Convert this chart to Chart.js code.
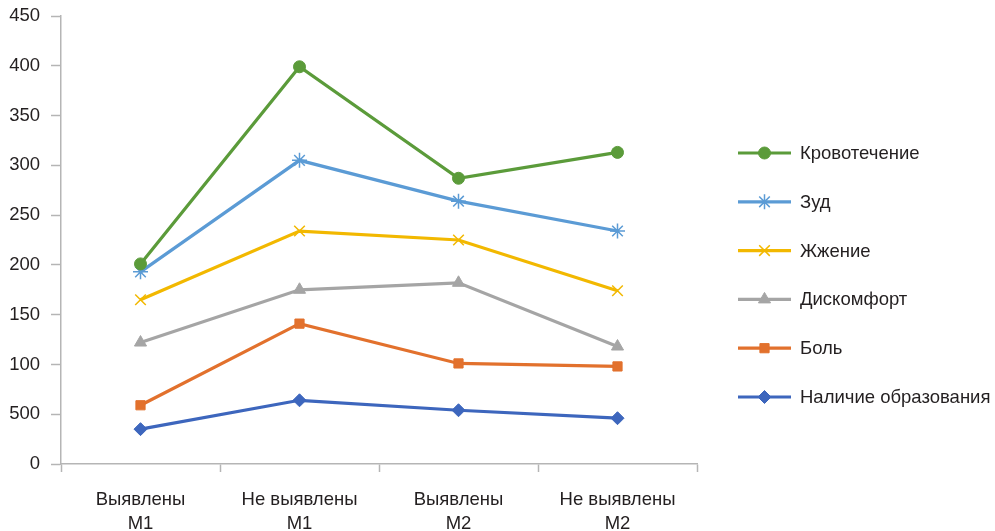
<!DOCTYPE html>
<html>
<head>
<meta charset="utf-8">
<script src="https://cdn.jsdelivr.net/npm/chart.js@4.4.1/dist/chart.umd.min.js"></script>
<style>
  html, body { margin: 0; padding: 0; background: #ffffff; }
  #wrap { width: 995px; height: 531px; }
</style>
</head>
<body>
<div id="wrap"><canvas id="chart" width="995" height="531"></canvas></div>
<script>
// Categories (two-line labels)
const categories = [
  ['Выявлены', 'M1'],
  ['Не выявлены', 'M1'],
  ['Выявлены', 'M2'],
  ['Не выявлены', 'M2']
];

// Y-axis tick labels as printed, from 0 to 450 in steps of 50
const yTickLabels = ['0', '500', '100', '150', '200', '250', '300', '350', '400', '450'];

// Series values
const bleeding   = [201, 399, 287, 313]; // Кровотечение
const itching    = [193, 305, 264, 234]; // Зуд
const burning    = [165, 234, 225, 174]; // Жжение
const discomfort = [122, 175, 182, 118]; // Дискомфорт
const pain       = [59, 141, 101, 98];   // Боль
const formation  = [35, 64, 54, 46];     // Наличие образования

const seriesNames = ['Кровотечение', 'Зуд', 'Жжение', 'Дискомфорт', 'Боль', 'Наличие образования'];

const FONT = "'Liberation Sans', Arial, Helvetica, sans-serif";
const TEXT_SIZE = 18.5;

function series(label, data, color, style, radius, borderW) {
  return {
    label: label,
    data: data,
    borderColor: color,
    backgroundColor: color,
    borderWidth: 3.2,
    pointStyle: style,
    pointRadius: radius,
    pointHoverRadius: radius,
    pointBorderColor: color,
    pointBackgroundColor: color,
    pointBorderWidth: borderW,
    tension: 0,
    fill: false
  };
}

const datasets = [
  series(seriesNames[0], bleeding,   '#5b9b3a', 'circle',   6,   1),
  series(seriesNames[1], itching,    '#5b9bd5', 'star',     7.5, 1.5),
  series(seriesNames[2], burning,    '#f2b800', 'crossRot', 7.5, 1.5),
  series(seriesNames[3], discomfort, '#a5a5a5', 'triangle', 7,   1),
  series(seriesNames[4], pain,       '#e2712d', 'rect',     6.5, 1),
  series(seriesNames[5], formation,  '#3d66bd', 'rectRot',  6.5, 1)
];

// Legend on the right: a line sample with the series marker, then its name
const sideLegend = {
  id: 'sideLegend',
  afterDraw(chart) {
    const ctx = chart.ctx;
    const x0 = 738, x1 = 791, tx = 800;
    const yStart = 153, step = 48.8;
    ctx.save();
    chart.data.datasets.forEach((ds, i) => {
      const y = yStart + i * step;
      ctx.strokeStyle = ds.borderColor;
      ctx.lineWidth = 3.2;
      ctx.beginPath();
      ctx.moveTo(x0, y);
      ctx.lineTo(x1, y);
      ctx.stroke();
      ctx.fillStyle = ds.pointBackgroundColor;
      ctx.strokeStyle = ds.pointBorderColor;
      ctx.lineWidth = ds.pointBorderWidth;
      Chart.helpers.drawPoint(ctx, {
        pointStyle: ds.pointStyle,
        radius: ds.pointRadius,
        borderWidth: ds.pointBorderWidth,
        rotation: 0
      }, (x0 + x1) / 2, y);
      ctx.fillStyle = '#231f20';
      ctx.font = TEXT_SIZE + 'px ' + FONT;
      ctx.textAlign = 'left';
      ctx.textBaseline = 'middle';
      ctx.fillText(ds.label, tx, y + 1);
    });
    ctx.restore();
  }
};

new Chart(document.getElementById('chart'), {
  type: 'line',
  data: { labels: categories, datasets: datasets },
  plugins: [sideLegend],
  options: {
    responsive: false,
    animation: false,
    devicePixelRatio: 1,
    layout: { padding: { top: 16, right: 298, left: 0, bottom: 0 } },
    plugins: {
      legend: { display: false },
      tooltip: { enabled: false },
      title: { display: false }
    },
    scales: {
      x: {
        offset: true,
        grid: {
          offset: true,
          drawOnChartArea: false,
          drawTicks: true,
          tickLength: 8,
          color: '#b5b5b5',
          tickWidth: 1.5
        },
        border: { display: true, color: '#b5b5b5', width: 1.5 },
        ticks: {
          color: '#231f20',
          font: { family: FONT, size: TEXT_SIZE, lineHeight: 1.28 },
          padding: 16,
          maxRotation: 0,
          autoSkip: false
        },
        afterFit(scale) { scale.height = 67; }
      },
      y: {
        min: 0,
        max: 450,
        ticks: {
          stepSize: 50,
          color: '#231f20',
          font: { family: FONT, size: TEXT_SIZE },
          padding: 11,
          callback: (v) => yTickLabels[Math.round(v / 50)]
        },
        grid: {
          drawOnChartArea: false,
          drawTicks: true,
          tickLength: 10,
          color: '#b5b5b5',
          tickWidth: 1.5
        },
        border: { display: true, color: '#b5b5b5', width: 1.5 },
        afterFit(scale) {
          scale.width = 61;
          scale.paddingTop = 0;
          scale.paddingBottom = 0;
        }
      }
    }
  }
});
</script>
</body>
</html>
